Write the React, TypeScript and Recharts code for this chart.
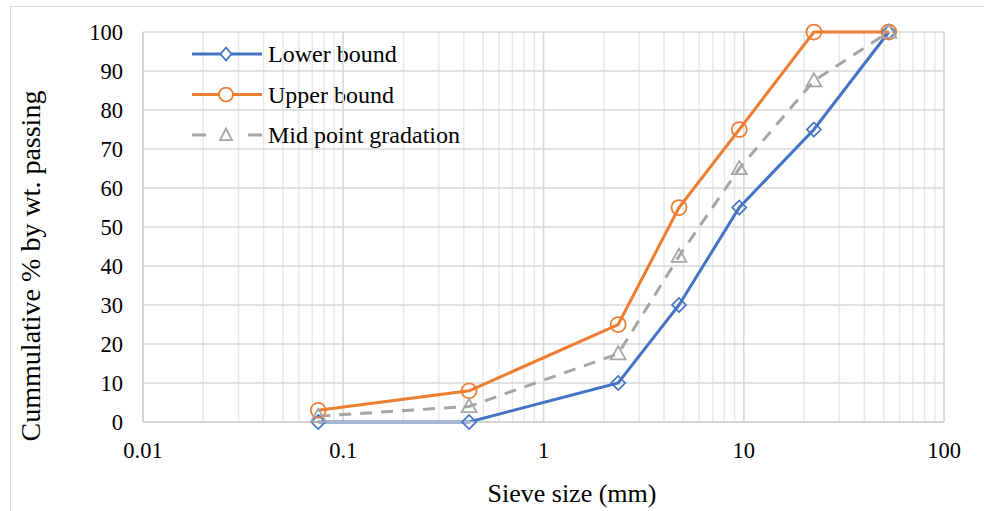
import React from 'react';
import { LineChart, Line, XAxis, YAxis, CartesianGrid, ReferenceLine, Customized } from 'recharts';

const sieveSizes = [0.075, 0.425, 2.36, 4.75, 9.5, 22.4, 53];
const lowerBound = [0, 0, 10, 30, 55, 75, 100];
const upperBound = [3, 8, 25, 55, 75, 100, 100];
const midPoint = [1.5, 4, 17.5, 42.5, 65, 87.5, 100];

const decadeTicks = [0.01, 0.1, 1, 10, 100];
const decadeLabels = ['0.01', '0.1', '1', '10', '100'];
const minorTicks = [
  0.02, 0.03, 0.04, 0.05, 0.06, 0.07, 0.08, 0.09,
  0.2, 0.3, 0.4, 0.5, 0.6, 0.7, 0.8, 0.9,
  2, 3, 4, 5, 6, 7, 8, 9,
  20, 30, 40, 50, 60, 70, 80, 90,
];
const yTicks = [0, 10, 20, 30, 40, 50, 60, 70, 80, 90, 100];

const data = sieveSizes.map((s, i) => ({
  size: s,
  lower: lowerBound[i],
  upper: upperBound[i],
  mid: midPoint[i],
}));

const BLUE = '#4472C4';
const ORANGE = '#ED7D31';
const GRAY = '#A5A5A5';
const FONT = 'Liberation Serif';

const allTicks = [...decadeTicks, ...minorTicks].sort((a, b) => a - b);

const xTickFormatter = (v: number) => {
  const idx = decadeTicks.findIndex((d) => Math.abs(d - v) < 1e-9);
  return idx < 0 ? '' : decadeLabels[idx];
};

const Diamond = (props: any) => {
  const { cx, cy, index } = props;
  if (cx == null || cy == null) return null;
  const r = 7;
  return (
    <path
      key={`d${index}`}
      d={`M${cx},${cy - r} L${cx + r},${cy} L${cx},${cy + r} L${cx - r},${cy} Z`}
      fill="none"
      stroke={BLUE}
      strokeWidth={1.75}
    />
  );
};

const Circle = (props: any) => {
  const { cx, cy, index } = props;
  if (cx == null || cy == null) return null;
  return <circle key={`c${index}`} cx={cx} cy={cy} r={7.5} fill="none" stroke={ORANGE} strokeWidth={1.75} />;
};

const Triangle = (props: any) => {
  const { cx, cy, index } = props;
  if (cx == null || cy == null) return null;
  const r = 7.5;
  return (
    <path
      key={`t${index}`}
      d={`M${cx},${cy - r} L${cx + r},${cy + r * 0.75} L${cx - r},${cy + r * 0.75} Z`}
      fill="none"
      stroke={GRAY}
      strokeWidth={1.75}
    />
  );
};

const legendItems = [
  { label: 'Lower bound', color: BLUE, kind: 'diamond' },
  { label: 'Upper bound', color: ORANGE, kind: 'circle' },
  { label: 'Mid point gradation', color: GRAY, kind: 'triangle' },
];

const LegendBox = () => (
  <g>
    {legendItems.map((it, i) => {
      const y = 54 + i * 40.5;
      const x1 = 192;
      const x2 = 262;
      const cx = 226;
      let marker: React.ReactNode = null;
      let lines: React.ReactNode = null;
      if (it.kind === 'diamond') {
        marker = (
          <path d={`M${cx},${y - 6.5} L${cx + 5.5},${y} L${cx},${y + 6.5} L${cx - 5.5},${y} Z`} fill="#fff" stroke={it.color} strokeWidth={1.75} />
        );
      } else if (it.kind === 'circle') {
        marker = <circle cx={cx} cy={y} r={7} fill="#fff" stroke={it.color} strokeWidth={1.75} />;
      } else {
        marker = (
          <path d={`M${cx},${y - 6.5} L${cx + 6},${y + 5} L${cx - 6},${y + 5} Z`} fill="#fff" stroke={it.color} strokeWidth={1.75} />
        );
      }
      if (it.kind === 'triangle') {
        lines = (
          <g>
            <line x1={x1} y1={y} x2={x1 + 14} y2={y} stroke={it.color} strokeWidth={3} />
            <line x1={x2 - 14} y1={y} x2={x2} y2={y} stroke={it.color} strokeWidth={3} />
          </g>
        );
      } else {
        lines = <line x1={x1} y1={y} x2={x2} y2={y} stroke={it.color} strokeWidth={3} />;
      }
      return (
        <g key={it.label}>
          {lines}
          {marker}
          <text x={268} y={y + 8} fontFamily={FONT} fontSize={24} fill="#000">
            {it.label}
          </text>
        </g>
      );
    })}
  </g>
);

const tickStyle = { fontFamily: FONT, fontSize: 22.5, fill: '#000' };

export default function App() {
  return (
    <div
      style={{
        position: 'fixed',
        left: 0,
        top: 0,
        width: 984,
        height: 511,
        background: '#fff',
        overflow: 'hidden',
        fontFamily: FONT,
      }}
    >
      <div
        style={{
          position: 'absolute',
          left: 10,
          top: 6,
          width: 990,
          height: 520,
          border: '1.5px solid #d9d9d9',
          boxSizing: 'border-box',
        }}
      />
      <LineChart
        width={984}
        height={511}
        data={data}
        margin={{ top: 32, right: 40, bottom: 29, left: 0 }}
        style={{ position: 'absolute', left: 0, top: 0, fontFamily: FONT }}
      >
        <CartesianGrid stroke="#e8e8e8" strokeWidth={1.5} horizontal={false} vertical={true} />
        <CartesianGrid stroke="#d9d9d9" strokeWidth={1.5} horizontal={true} vertical={false} />
        {decadeTicks.map((d) => (
          <ReferenceLine key={d} x={d} stroke="#d9d9d9" strokeWidth={1.5} ifOverflow="extendDomain" />
        ))}
        <XAxis
          dataKey="size"
          type="number"
          scale="log"
          domain={[0.01, 100]}
          ticks={allTicks}
          interval={0}
          allowDataOverflow
          height={60}
          tick={tickStyle}
          tickFormatter={xTickFormatter}
          tickLine={false}
          tickSize={0}
          tickMargin={20}
          axisLine={{ stroke: '#d0d0d0', strokeWidth: 1.5 }}
        />
        <YAxis
          type="number"
          domain={[0, 100]}
          ticks={yTicks}
          interval={0}
          width={143}
          tick={tickStyle}
          tickLine={false}
          tickSize={0}
          tickMargin={20}
          axisLine={{ stroke: '#d0d0d0', strokeWidth: 1.5 }}
        />
        <Line
          dataKey="lower"
          stroke={BLUE}
          strokeWidth={3}
          dot={<Diamond />}
          activeDot={false}
          isAnimationActive={false}
        />
        <Line
          dataKey="upper"
          stroke={ORANGE}
          strokeWidth={3}
          dot={<Circle />}
          activeDot={false}
          isAnimationActive={false}
        />
        <Line
          dataKey="mid"
          stroke={GRAY}
          strokeWidth={3}
          strokeDasharray="12 9"
          dot={<Triangle />}
          activeDot={false}
          isAnimationActive={false}
        />
        <Customized component={<LegendBox />} />
        <text x={572} y={502} textAnchor="middle" fontFamily={FONT} fontSize={26} fill="#000">
          Sieve size (mm)
        </text>
        <text
          x={40}
          y={266}
          textAnchor="middle"
          fontFamily={FONT}
          fontSize={28}
          fill="#000"
          transform="rotate(-90 40 266)"
        >
          Cummulative % by wt. passing
        </text>
      </LineChart>
    </div>
  );
}
